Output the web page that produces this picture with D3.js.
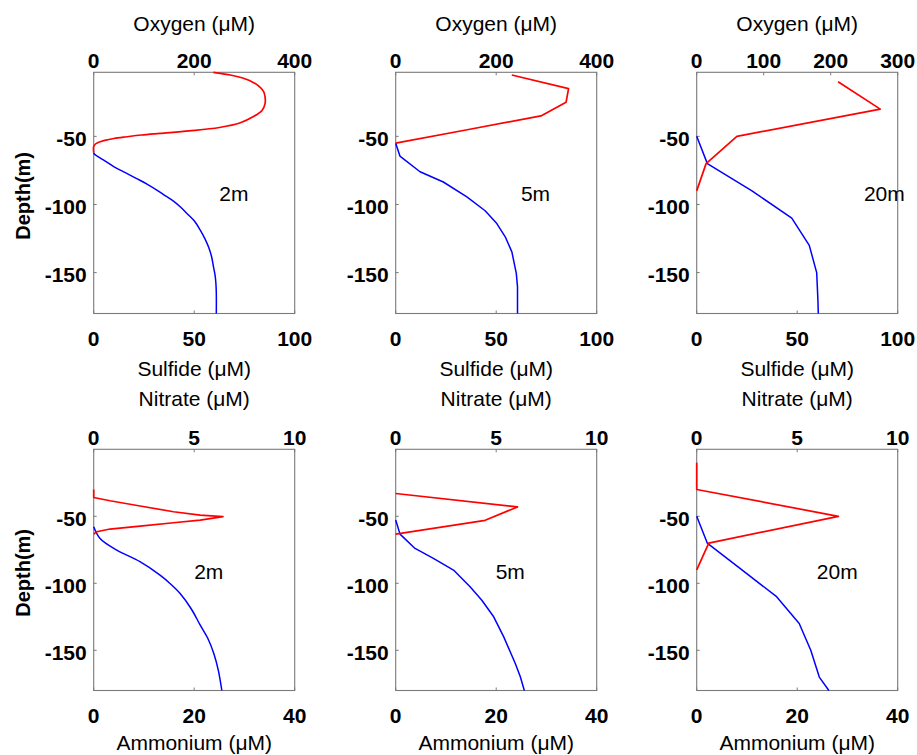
<!DOCTYPE html>
<html><head><meta charset="utf-8">
<script src="https://cdn.jsdelivr.net/npm/d3@7"></script>
<style>
body{margin:0;background:#fff}
svg{display:block}
text{font-family:"Liberation Sans",Arial,Helvetica,sans-serif;fill:#000}
</style>
</head><body>
<svg id="chart" width="917" height="755"></svg>
<script>
// ---------- DATA: [value, depth(m)] ----------
const oxygen2m = [[238,-3],[255,-4],[272,-5],[295,-7],[310,-9],[328,-13],[338,-17],[341,-21],[341,-26],[335,-31],[318,-35.5],[292,-40],[250,-43.5],[190,-46],[132,-47.8],[95,-49],[66,-50.3],[40,-51.6],[22,-53],[9,-54.5],[3,-55.8],[0,-57.5],[0,-62]];
const sulfide2m = [[0,-62],[0.3,-63],[5,-67.5],[9.8,-72],[15.5,-76.5],[21.4,-81],[26.5,-85],[31.4,-89.4],[35.5,-93.5],[39.7,-97.5],[43.3,-102],[46.4,-106.6],[50,-112],[53,-118.8],[55.3,-125],[57.1,-131],[58.6,-138],[59.6,-145.8],[60.4,-152],[60.8,-158],[61,-165],[61,-180]];
const oxygen5m = [[231,-5],[344,-15],[339,-25],[289,-35],[145,-45],[0,-55]];
const sulfide5m = [[0,-55],[2.1,-64.5],[12.1,-76],[23.7,-83.5],[35.4,-94.4],[44.5,-104.6],[50.3,-114],[54.5,-123.7],[57.8,-134.8],[60,-150.6],[60.6,-160.5],[60.6,-180]];
const oxygen20m = [[211,-10],[274,-30],[60,-50],[14,-70],[0,-90]];
const sulfide20m = [[0,-50],[5.3,-70],[27.5,-90],[47.3,-110],[56,-130],[59.7,-150],[60.3,-170],[60.5,-180]];

const nitrate2m = [[0,-30],[0,-36],[0.81,-38.4],[2.31,-42.3],[3.97,-46.6],[5.3,-49.1],[6.43,-50.3],[5.3,-52.8],[3.97,-54.8],[2.31,-57.3],[0.81,-59.5],[0.15,-61.5],[0,-63.3]];
const ammonium2m = [[0,-57.8],[1.26,-66.5],[4.6,-75.2],[9.2,-83.9],[13.2,-93.9],[15.3,-100.5],[17.2,-107.6],[19.4,-119],[21.2,-131.2],[22.7,-141],[23.9,-152.4],[24.8,-165],[25.5,-180]];
const nitrate5m = [[0,-33],[6.06,-43],[4.45,-53],[0,-63.3]];
const ammonium5m = [[0,-52.8],[0.86,-63.3],[3.85,-74],[7.5,-81.4],[11.5,-90.1],[14.8,-102.6],[17.1,-112.5],[19.5,-125],[21.5,-140],[23.8,-159.8],[24.8,-169.8],[25.6,-180]];
const nitrate20m = [[0,-10],[0,-30],[7.05,-50],[0.6,-70],[0,-90]];
const ammonium20m = [[0,-50],[2.1,-70],[9,-90],[15.9,-110],[20.4,-130],[22.7,-150],[24.4,-170],[26.3,-180]];

// ---------- TICKS / LABELS ----------
const depthTicks = [-150, -100, -50];
const oxygenTicks400 = [0, 200, 400];
const oxygenTicks300 = [0, 100, 200, 300];
const sulfideTicks = [0, 50, 100];
const nitrateTicks = [0, 5, 10];
const ammoniumTicks = [0, 20, 40];
const resolutionLabels = ["2m", "5m", "20m"];
// label anchor in [bottom-axis value, depth]
const labelAnchorsTop = [[62.5,-97.5],[62.3,-97.5],[83.2,-97.5]];
const labelAnchorsBottom = [[20,-96.9],[19.9,-96.9],[23.9,-96.5]];

// ---------- PANELS ----------
const panels = [
  {row:0,col:0,red:oxygen2m,blue:sulfide2m,smoothRed:true,topTicks:oxygenTicks400,botTicks:sulfideTicks,topTitle:"Oxygen (μM)",botTitle:"Sulfide (μM)",label:resolutionLabels[0],anchor:labelAnchorsTop[0]},
  {row:0,col:1,red:oxygen5m,blue:sulfide5m,smoothRed:false,topTicks:oxygenTicks400,botTicks:sulfideTicks,topTitle:"Oxygen (μM)",botTitle:"Sulfide (μM)",label:resolutionLabels[1],anchor:labelAnchorsTop[1]},
  {row:0,col:2,red:oxygen20m,blue:sulfide20m,smoothRed:false,topTicks:oxygenTicks300,botTicks:sulfideTicks,topTitle:"Oxygen (μM)",botTitle:"Sulfide (μM)",label:resolutionLabels[2],anchor:labelAnchorsTop[2]},
  {row:1,col:0,red:nitrate2m,blue:ammonium2m,smoothRed:false,topTicks:nitrateTicks,botTicks:ammoniumTicks,topTitle:"Nitrate (μM)",botTitle:"Ammonium (μM)",label:resolutionLabels[0],anchor:labelAnchorsBottom[0]},
  {row:1,col:1,red:nitrate5m,blue:ammonium5m,smoothRed:false,topTicks:nitrateTicks,botTicks:ammoniumTicks,topTitle:"Nitrate (μM)",botTitle:"Ammonium (μM)",label:resolutionLabels[1],anchor:labelAnchorsBottom[1]},
  {row:1,col:2,red:nitrate20m,blue:ammonium20m,smoothRed:false,topTicks:nitrateTicks,botTicks:ammoniumTicks,topTitle:"Nitrate (μM)",botTitle:"Ammonium (μM)",label:resolutionLabels[2],anchor:labelAnchorsBottom[2]}
];

// ---------- LAYOUT ----------
const lefts = [93.7, 395.7, 696.7];
const W = 201;
const tops = [72.3, 449.3];
const H = 241.2;
const depthDomains = [[-180, -3], [-180, 0]];
const botTitleOff = [62.5, 59];
const topTitleOff = [41, 43];

const svg = d3.select("#chart");
const boxColor = "#7a7a7a";

panels.forEach(p => {
  const x0 = lefts[p.col], y0 = tops[p.row];
  const g = svg.append("g");
  const y = d3.scaleLinear().domain(depthDomains[p.row]).range([y0 + H, y0]);
  const xt = d3.scaleLinear().domain(d3.extent(p.topTicks)).range([x0, x0 + W]);
  const xb = d3.scaleLinear().domain(d3.extent(p.botTicks)).range([x0, x0 + W]);

  // box
  g.append("rect").attr("x", x0).attr("y", y0).attr("width", W).attr("height", H)
    .attr("fill", "none").attr("stroke", boxColor).attr("stroke-width", 1.1);

  // y ticks
  depthTicks.forEach(t => {
    g.append("line").attr("x1", x0).attr("x2", x0 + 3).attr("y1", y(t)).attr("y2", y(t))
      .attr("stroke", boxColor);
    g.append("text").attr("x", x0 - 7).attr("y", y(t) + 9.5).attr("text-anchor", "end")
      .style("font-size", "21px").style("font-weight", "bold").text(t);
  });
  // top ticks
  p.topTicks.forEach(t => {
    g.append("line").attr("x1", xt(t)).attr("x2", xt(t)).attr("y1", y0).attr("y2", y0 + 3).attr("stroke", boxColor);
    g.append("text").attr("x", xt(t)).attr("y", y0 - 4).attr("text-anchor", "middle")
      .style("font-size", "21px").style("font-weight", "bold").text(t);
  });
  // bottom ticks
  p.botTicks.forEach(t => {
    g.append("line").attr("x1", xb(t)).attr("x2", xb(t)).attr("y1", y0 + H).attr("y2", y0 + H - 3).attr("stroke", boxColor);
    g.append("text").attr("x", xb(t)).attr("y", y0 + H + 32).attr("text-anchor", "middle")
      .style("font-size", "21px").style("font-weight", "bold").text(t);
  });
  // titles
  g.append("text").attr("x", x0 + W / 2).attr("y", y0 - topTitleOff[p.row]).attr("text-anchor", "middle")
    .style("font-size", "21px").text(p.topTitle);
  g.append("text").attr("x", x0 + W / 2).attr("y", y0 + H + botTitleOff[p.row]).attr("text-anchor", "middle")
    .style("font-size", "21px").text(p.botTitle);
  if (p.col === 0) {
    const cy = y0 + H / 2 + 3;
    g.append("text").attr("transform", `translate(30,${cy}) rotate(-90)`).attr("text-anchor", "middle")
      .style("font-size", "20px").style("font-weight", "bold").text("Depth(m)");
  }

  // lines (fine 2m profiles drawn smooth, coarser ones piecewise linear)
  const blueCurve = p.col === 0 ? d3.curveCatmullRom.alpha(0.5) : d3.curveLinear;
  const redCurve = p.smoothRed ? d3.curveCatmullRom.alpha(0.5) : d3.curveLinear;
  const blueLine = d3.line().curve(blueCurve).x(d => xb(d[0])).y(d => y(d[1]));
  const redLine = d3.line().curve(redCurve).x(d => xt(d[0])).y(d => y(d[1]));
  g.append("path").datum(p.blue).attr("d", blueLine).attr("fill", "none")
    .attr("stroke", "#0000ff").attr("stroke-width", 1.5).attr("stroke-linejoin", "round");
  g.append("path").datum(p.red).attr("d", redLine).attr("fill", "none")
    .attr("stroke", "#ff0000").attr("stroke-width", 1.7).attr("stroke-linejoin", "round");

  // resolution label
  g.append("text").attr("x", xb(p.anchor[0])).attr("y", y(p.anchor[1]))
    .style("font-size", "21px").text(p.label);
});
</script>
</body></html>
